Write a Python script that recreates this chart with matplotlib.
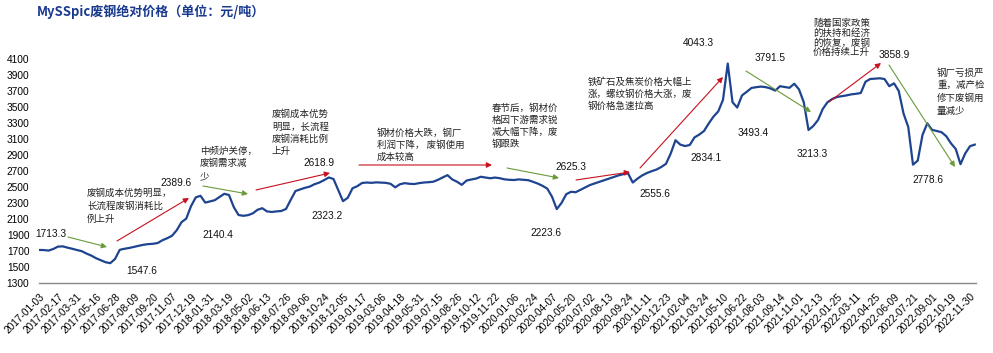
import matplotlib
matplotlib.use('Agg')
import matplotlib.pyplot as plt

W, H = 993, 353

title = "MySSpic废钢绝对价格（单位：元/吨）"

tick_labels = [
    "2017-01-03", "2017-02-17", "2017-03-31", "2017-05-16", "2017-06-28", "2017-08-09",
    "2017-09-20", "2017-11-07", "2017-12-19", "2018-01-31", "2018-03-19", "2018-05-02",
    "2018-06-13", "2018-07-26", "2018-09-06", "2018-10-24", "2018-12-05", "2019-01-17",
    "2019-03-06", "2019-04-18", "2019-05-31", "2019-07-15", "2019-08-26", "2019-10-12",
    "2019-11-22", "2020-01-06", "2020-02-24", "2020-04-07", "2020-05-20", "2020-07-02",
    "2020-08-13", "2020-09-24", "2020-11-11", "2020-12-23", "2021-02-04", "2021-03-24",
    "2021-05-10", "2021-06-22", "2021-08-03", "2021-09-14", "2021-11-01", "2021-12-13",
    "2022-01-25", "2022-03-11", "2022-04-25", "2022-06-09", "2022-07-21", "2022-09-01",
    "2022-10-19", "2022-11-30",
]
samples_per_tick = 4

prices = [
    1713, 1712, 1705, 1725, 1755, 1758, 1742, 1728, 1712, 1698,
    1668, 1643, 1610, 1585, 1560, 1548, 1600, 1715, 1728, 1738,
    1752, 1765, 1778, 1786, 1790, 1800, 1835, 1860, 1890, 1960,
    2060, 2105, 2260, 2370, 2390, 2305, 2320, 2335, 2375, 2415,
    2400, 2250, 2150, 2140, 2148, 2170, 2215, 2235, 2195, 2188,
    2195, 2200, 2225, 2340, 2450, 2470, 2490, 2505, 2535, 2555,
    2585, 2619, 2600, 2460, 2323, 2365, 2484, 2510, 2550, 2556,
    2552, 2558, 2555, 2552, 2540, 2496, 2535, 2548, 2540, 2537,
    2548, 2556, 2560, 2566, 2590, 2620, 2648, 2595, 2566, 2527,
    2580, 2594, 2605, 2628, 2618, 2609, 2618, 2610, 2596, 2590,
    2587, 2595, 2590, 2585, 2565, 2543, 2515, 2480, 2379, 2224,
    2300, 2410, 2440, 2435, 2465, 2495, 2525, 2545, 2565, 2585,
    2605, 2625, 2645, 2660, 2671, 2556, 2605, 2645, 2675, 2698,
    2718, 2750, 2790, 2920, 3085, 3030, 3012, 3025, 3120, 3155,
    3200, 3295, 3380, 3445, 3590, 4043, 3560, 3493, 3645, 3690,
    3738, 3748, 3755, 3748, 3732, 3705, 3760, 3750, 3740, 3791,
    3720, 3560, 3213, 3262, 3337, 3475, 3560, 3600, 3625, 3635,
    3645, 3658, 3665, 3675, 3816, 3850, 3855, 3859, 3850, 3760,
    3796, 3700, 3420, 3250, 2779, 2830, 3150, 3296, 3215, 3200,
    3185, 3135, 3045, 2975, 2785, 2920, 3010, 3030,
]

y_ticks = list(range(1300, 4101, 200))

# value call-outs: text, centre position in pixels
value_labels = ["1713.3", "1547.6", "2389.6", "2140.4", "2618.9", "2323.2", "2625.3",
                "2223.6", "2555.6", "2834.1", "4043.3", "3493.4", "3791.5", "3213.3",
                "3858.9", "2778.6"]
value_pos = [(51, 234), (142, 271), (176, 183), (218, 235), (319, 163), (327, 216),
             (571, 167), (546, 233), (655, 194), (706, 158), (698, 43), (753, 133),
             (770, 58), (812, 154), (894, 55), (928, 180)]

notes = [
    ["废钢成本优势明显，", "长流程废钢消耗比", "例上升"],
    ["中频炉关停，", "废钢需求减", "少"],
    ["废钢成本优势", "明显，长流程", "废钢消耗比例", "上升"],
    ["钢材价格大跌，钢厂", "利润下降， 废钢使用", "成本较高"],
    ["春节后，钢材价", "格因下游需求锐", "减大幅下降，废", "钢跟跌"],
    ["铁矿石及焦炭价格大幅上", "涨，螺纹钢价格大涨，废", "钢价格急速拉高"],
    ["随着国家政策", "的扶持和经济", "的恢复，废钢", "价格持续上升"],
    ["钢厂亏损严", "重，减产检", "修下废钢用", "量减少"],
]
# left x, first-line centre y, line pitch (pixels)
note_layout = [(87, 193, 13.3), (200, 151, 12.7), (272, 114.5, 12.4), (377, 133, 12.0),
               (492, 108, 12.2), (588, 82, 12.2), (813, 23, 9.9), (937, 73, 12.7)]

# arrows: start px, end px, colour key
arrows = [((68, 237), (107, 247), 'g'), ((117, 241), (189, 198), 'r'),
          ((203, 186), (248, 194), 'g'), ((256, 190), (330, 173), 'r'),
          ((359, 165), (492, 165), 'r'), ((507, 168), (559, 178), 'g'),
          ((576, 180), (630, 172), 'r'), ((640, 168), (723, 77), 'r'),
          ((746, 71), (811, 112), 'g'), ((829, 102), (881, 63), 'r'),
          ((889, 65), (955, 167), 'g')]
arrow_colors = {'g': '#6A9A3A', 'r': '#C8101E'}

CJK = ['Noto Sans CJK SC', 'DejaVu Sans']
NUM = ['Liberation Sans', 'DejaVu Sans']


def fp(x, y):
    return (x / W, 1 - y / H)


fig = plt.figure(figsize=(W / 100, H / 100), dpi=100)
x_left, x_right = 39, 976
y_bot, y_top = 283, 59
ax = fig.add_axes([x_left / W, 1 - y_bot / H, (x_right - x_left) / W, (y_bot - y_top) / H])

xs = list(range(len(prices)))
ax.plot(xs, prices, color='#1E448F', lw=1.6, solid_joinstyle='round')

n_ticks = len(tick_labels)
ax.set_xlim(0, (x_right - x_left) / ((x_right - x_left - 1.25) / (len(prices) - 1)))
ax.set_ylim(1300, 4100)
ax.set_xticks([i * samples_per_tick for i in range(n_ticks)])
ax.set_xticklabels(tick_labels, rotation=45, ha='right', va='top',
                   rotation_mode='anchor', fontsize=7.3, family=NUM)
ax.set_yticks(y_ticks)
ax.set_yticklabels([str(v) for v in y_ticks], fontsize=7.3, family=NUM)
ax.tick_params(axis='both', length=0)
ax.tick_params(axis='y', pad=7)
ax.tick_params(axis='x', pad=6)
for s in ['top', 'right', 'left']:
    ax.spines[s].set_visible(False)
ax.spines['bottom'].set_color('#888888')
ax.spines['bottom'].set_linewidth(1.0)
ax.patch.set_alpha(0)

fig.text(*fp(37, 12), title, ha='left', va='center', fontsize=9.4, fontweight='bold',
         color='#1A3A90', family=CJK)

for txt, (px, py) in zip(value_labels, value_pos):
    fig.text(*fp(px, py), txt, ha='center', va='center', fontsize=7.3, family=NUM,
             color='#111111')

for lines, (lx, ly, pitch) in zip(notes, note_layout):
    for k, line in enumerate(lines):
        fig.text(*fp(lx, ly + k * pitch), line, ha='left', va='center', fontsize=6.8,
                 family=CJK, color='#222222')

for (p0, p1, c) in arrows:
    col = arrow_colors[c]
    ax.annotate('', xy=fp(*p1), xycoords='figure fraction', xytext=fp(*p0),
                textcoords='figure fraction',
                arrowprops=dict(arrowstyle='-|>', color=col, lw=0.8, mutation_scale=8,
                                shrinkA=0, shrinkB=0))

fig.savefig('out.png', dpi=100)
